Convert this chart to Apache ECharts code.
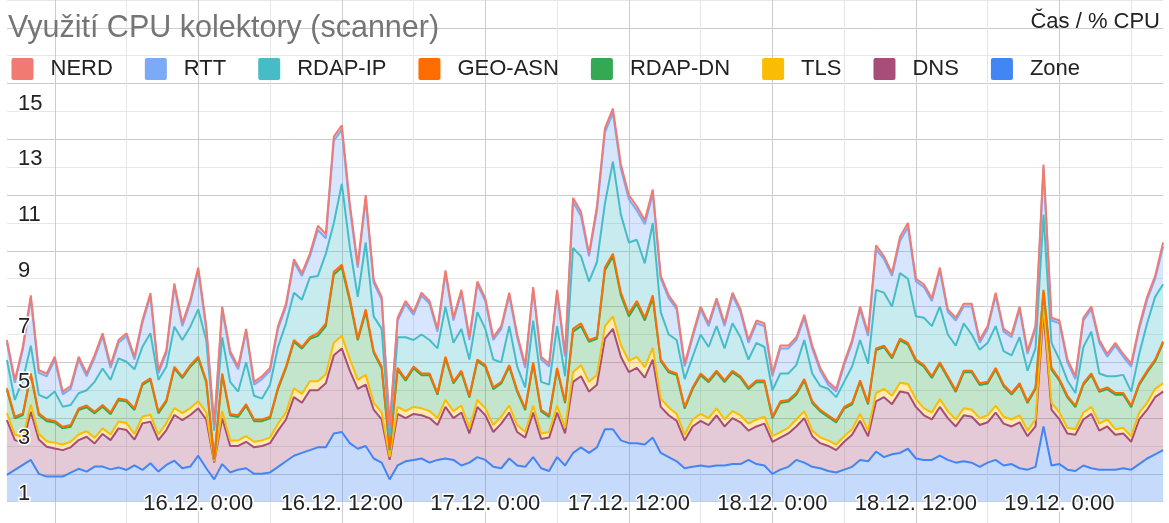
<!DOCTYPE html>
<html>
<head>
<meta charset="utf-8">
<title>Využití CPU kolektory (scanner)</title>
<script src="https://cdn.jsdelivr.net/npm/echarts@6/dist/echarts.min.js"></script>
<style>
html, body { margin: 0; padding: 0; background: #ffffff; }
#chart { width: 1169px; height: 523px; }
</style>
</head>
<body>
<div id="chart"></div>
<script>
// Samples every 40 minutes; hours are counted from 16.12. 0:00.
const firstHour = -16;
const stepHours = 2 / 3;
const firstDay = 16;
const monthText = '12';

// CPU usage (%) per collector, stacked from Zone (bottom) to NERD (top).
const zone = [
  1.96,2.14,2.32,2.5,2.0,1.9,1.9,1.9,2.04,2.18,
  2.08,2.26,2.26,2.16,2.23,2.14,2.3,2.14,2.38,2.08,
  2.32,2.47,2.2,2.26,2.65,2.2,1.8,2.35,2.05,2.15,
  2.2,2.0,2.0,2.05,2.25,2.45,2.65,2.75,2.85,2.95,
  2.95,3.45,3.5,3.1,2.9,3.0,2.55,2.4,1.8,2.3,
  2.45,2.5,2.55,2.4,2.5,2.55,2.5,2.3,2.4,2.6,
  2.5,2.25,2.2,2.55,2.3,2.25,2.6,2.2,2.1,2.6,
  2.3,2.75,2.95,2.75,2.95,3.6,3.6,3.2,3.1,3.1,
  3.05,3.3,2.75,2.6,2.45,2.2,2.25,2.3,2.25,2.3,
  2.3,2.35,2.35,2.5,2.35,2.3,2.0,2.15,2.25,2.5,
  2.4,2.25,2.2,2.1,2.05,2.15,2.25,2.5,2.45,2.8,
  2.6,2.7,2.75,2.9,2.55,2.5,2.5,2.65,2.5,2.4,
  2.45,2.4,2.25,2.4,2.5,2.3,2.35,2.2,2.15,2.25,
  3.7,2.3,2.35,2.15,2.1,2.3,2.2,2.15,2.15,2.15,
  2.2,2.15,2.35,2.55,2.7,2.85
];
const dns = [
  1.97,1.07,0.8,1.73,1.23,1.07,1.01,0.95,0.91,1.03,
  1.25,0.83,1.17,1.05,1.4,1.43,0.93,1.67,1.49,1.13,
  1.25,1.64,1.73,1.85,1.7,1.75,0.6,1.65,0.95,0.85,
  0.95,0.95,1.0,1.05,1.3,1.5,2.1,1.8,2.15,2.05,
  2.3,2.8,3.0,2.6,2.15,2.2,1.75,1.55,0.7,1.85,
  1.55,1.65,1.55,1.6,1.25,1.85,1.5,1.9,1.05,1.8,
  1.6,1.25,1.6,1.65,1.2,1.05,1.6,1.05,1.2,1.6,
  1.15,2.55,2.55,2.2,2.25,3.25,3.6,3.0,2.55,2.7,
  2.4,2.8,1.65,1.5,1.45,1.0,1.45,1.6,1.5,1.8,
  1.4,1.65,1.5,1.05,1.35,1.5,1.15,1.15,1.2,1.2,
  1.6,1.1,0.9,0.9,0.8,1.0,1.15,1.4,0.9,1.8,
  2.15,1.8,2.2,2.0,1.85,1.6,1.45,1.75,1.5,1.3,
  1.65,1.65,1.5,1.45,1.7,1.5,1.35,1.65,1.2,1.45,
  4.1,2.0,1.6,1.3,1.3,1.65,1.95,1.4,1.55,1.25,
  1.25,1.0,1.6,1.75,2.05,2.1
];
const tls = [
  0.25,0.2,0.2,0.25,0.2,0.2,0.2,0.2,0.2,0.2,
  0.2,0.2,0.2,0.2,0.25,0.25,0.2,0.25,0.25,0.2,
  0.25,0.25,0.25,0.25,0.25,0.25,0.05,0.25,0.2,0.2,
  0.2,0.2,0.2,0.2,0.25,0.25,0.32,0.32,0.32,0.32,
  0.32,0.45,0.45,0.42,0.32,0.35,0.25,0.25,0.1,0.25,
  0.25,0.25,0.25,0.25,0.25,0.25,0.25,0.25,0.2,0.25,
  0.25,0.25,0.25,0.25,0.25,0.2,0.25,0.2,0.2,0.25,
  0.2,0.35,0.4,0.35,0.35,0.45,0.45,0.42,0.4,0.4,
  0.38,0.42,0.3,0.28,0.25,0.2,0.25,0.25,0.25,0.25,
  0.25,0.25,0.25,0.25,0.25,0.25,0.2,0.2,0.2,0.25,
  0.25,0.2,0.2,0.2,0.2,0.2,0.2,0.25,0.2,0.3,
  0.3,0.3,0.32,0.32,0.28,0.25,0.25,0.28,0.25,0.25,
  0.25,0.25,0.25,0.25,0.25,0.25,0.25,0.25,0.2,0.25,
  0.3,0.25,0.25,0.2,0.2,0.25,0.25,0.25,0.25,0.2,
  0.2,0.2,0.25,0.25,0.3,0.3
];
const rdapDn = [
  0.83,0.58,0.79,1.06,0.68,0.72,0.73,0.58,0.54,0.88,
  0.86,0.88,0.78,0.73,0.76,0.77,0.86,1.13,1.25,0.76,
  0.77,1.42,1.25,1.48,1.54,1.09,0.07,1.29,0.89,0.84,
  1.09,0.74,0.69,0.69,1.24,1.59,1.67,1.62,1.52,1.63,
  1.73,2.45,2.45,2.08,1.42,2.25,1.79,1.59,0.25,1.34,
  1.09,1.39,1.19,1.29,0.84,1.49,0.99,1.19,1.09,1.39,
  1.49,1.29,1.19,1.39,1.19,0.79,1.49,0.79,0.54,1.29,
  0.89,1.45,1.4,1.44,1.29,2.0,2.15,1.78,1.6,1.9,
  1.67,1.78,1.34,1.26,1.39,0.94,1.09,1.39,1.29,1.29,
  1.34,1.39,1.34,1.24,1.34,1.24,0.64,1.04,0.94,0.89,
  1.09,0.99,0.94,0.84,0.79,0.99,0.89,1.14,0.94,1.54,
  1.49,1.34,1.52,1.42,1.36,1.49,1.24,1.26,1.19,0.99,
  1.29,1.34,1.19,1.14,1.29,1.09,0.89,1.09,0.99,1.09,
  0.42,1.19,1.14,1.09,0.79,0.99,1.14,1.14,1.09,1.24,
  1.19,1.04,0.99,1.09,0.99,1.44
];
const geoAsn = [
  0.06,0.06,0.06,0.06,0.06,0.06,0.06,0.06,0.06,0.06,
  0.06,0.06,0.06,0.06,0.06,0.06,0.06,0.06,0.06,0.06,
  0.06,0.06,0.06,0.06,0.06,0.06,0.03,0.06,0.06,0.06,
  0.06,0.06,0.06,0.06,0.06,0.06,0.06,0.06,0.06,0.1,
  0.1,0.1,0.1,0.1,0.06,0.1,0.06,0.06,0.05,0.06,
  0.06,0.06,0.06,0.06,0.06,0.06,0.06,0.06,0.06,0.06,
  0.06,0.06,0.06,0.06,0.06,0.06,0.06,0.06,0.06,0.06,
  0.06,0.1,0.1,0.06,0.06,0.1,0.1,0.1,0.1,0.1,
  0.1,0.1,0.06,0.06,0.06,0.06,0.06,0.06,0.06,0.06,
  0.06,0.06,0.06,0.06,0.06,0.06,0.06,0.06,0.06,0.06,
  0.06,0.06,0.06,0.06,0.06,0.06,0.06,0.06,0.06,0.06,
  0.06,0.06,0.06,0.06,0.06,0.06,0.06,0.06,0.06,0.06,
  0.06,0.06,0.06,0.06,0.06,0.06,0.06,0.06,0.06,0.06,
  0.08,0.06,0.06,0.06,0.06,0.06,0.06,0.06,0.06,0.06,
  0.06,0.06,0.06,0.06,0.06,0.06
];
const rdapIp = [
  1.01,0.6,1.2,1.0,0.66,0.76,1.05,0.72,0.72,0.54,
  0.55,1.07,1.31,1.17,1.44,1.37,1.4,1.31,1.61,1.14,
  1.19,1.44,1.31,1.38,1.7,1.45,1.0,1.3,1.15,0.85,
  1.5,0.85,0.75,1.15,1.45,1.55,1.7,1.7,2.15,2.05,
  2.5,1.75,2.9,1.85,1.5,2.4,1.25,1.35,0.45,1.1,
  1.5,0.95,1.4,1.2,1.6,1.8,1.4,1.5,1.3,1.7,
  1.3,1.0,0.7,1.4,0.85,0.75,1.5,1.0,1.1,1.5,
  0.9,2.9,2.4,2.1,2.7,2.3,3.3,2.8,2.55,2.2,
  1.95,2.6,1.7,1.3,1.2,1.0,1.1,1.4,1.2,1.6,
  1.15,1.7,1.4,1.0,1.35,1.2,0.95,1.0,0.95,1.0,
  1.4,1.0,0.85,0.95,0.85,0.9,1.3,1.45,1.4,2.1,
  1.9,1.8,2.35,2.3,1.55,1.7,1.8,2.0,1.5,1.6,
  1.7,1.3,1.2,1.4,1.5,1.2,1.35,1.65,1.1,1.4,
  2.7,0.9,0.7,0.55,0.45,1.3,1.5,0.6,0.4,0.6,
  0.65,0.5,1.05,1.7,2.25,2.05
];
const rtt = [
  0.62,0.62,1.09,1.7,0.79,0.79,1.15,0.44,0.58,1.21,
  0.5,0.86,1.16,0.43,0.56,0.92,0.35,0.86,1.34,0.23,
  0.5,1.45,0.5,0.86,1.4,0.4,0.14,1.0,1.0,0.8,
  1.1,0.4,0.7,0.5,0.65,0.6,1.1,0.85,0.75,1.65,
  0.55,2.95,1.95,1.4,1.05,1.55,1.2,1.05,0.29,0.6,
  1.2,0.9,1.4,1.3,0.6,1.2,0.8,1.3,0.7,1.0,
  1.0,0.7,1.2,1.1,1.05,0.7,1.1,0.8,0.65,1.2,
  0.7,1.65,1.45,0.9,1.85,2.55,1.75,1.65,1.55,1.05,
  1.4,1.05,1.2,1.3,1.1,0.45,0.7,0.9,0.75,0.9,
  0.8,1.0,0.9,0.6,0.7,0.75,0.5,0.9,0.9,0.9,
  0.8,0.9,0.55,0.15,0.2,0.6,0.85,1.1,1.0,1.45,
  1.2,1.1,1.15,1.85,1.25,1.1,0.9,1.3,0.8,0.9,
  0.6,1.0,0.25,0.5,1.1,0.7,0.65,1.0,0.6,0.7,
  1.65,0.8,1.3,0.65,0.5,0.95,0.8,1.1,0.7,1.1,
  0.65,0.9,0.9,0.85,0.65,1.35
];
const nerd = [
  0.1,0.1,0.1,0.1,0.1,0.1,0.1,0.1,0.1,0.1,
  0.1,0.1,0.1,0.1,0.1,0.1,0.1,0.1,0.1,0.1,
  0.1,0.1,0.1,0.1,0.1,0.1,0.06,0.1,0.1,0.1,
  0.1,0.1,0.1,0.1,0.1,0.1,0.1,0.1,0.1,0.15,
  0.15,0.15,0.15,0.15,0.1,0.15,0.1,0.1,0.06,0.1,
  0.1,0.1,0.1,0.1,0.1,0.1,0.1,0.1,0.1,0.1,
  0.1,0.1,0.1,0.1,0.1,0.1,0.1,0.1,0.1,0.1,
  0.1,0.15,0.15,0.1,0.15,0.15,0.15,0.15,0.15,0.15,
  0.15,0.15,0.1,0.1,0.1,0.1,0.1,0.1,0.1,0.1,
  0.1,0.1,0.1,0.1,0.1,0.1,0.1,0.1,0.1,0.1,
  0.1,0.1,0.1,0.1,0.1,0.1,0.1,0.1,0.1,0.15,
  0.1,0.1,0.15,0.15,0.1,0.1,0.1,0.1,0.1,0.1,
  0.1,0.1,0.1,0.1,0.1,0.1,0.1,0.1,0.1,0.1,
  0.15,0.1,0.1,0.1,0.1,0.1,0.1,0.1,0.1,0.1,
  0.1,0.1,0.1,0.1,0.1,0.15
];

const yTickLabels = [1, 3, 5, 7, 9, 11, 13, 15];
const legendOrder = ['NERD', 'RTT', 'RDAP-IP', 'GEO-ASN', 'RDAP-DN', 'TLS', 'DNS', 'Zone'];

// Stacking order, bottom to top, with each collector's colour.
const layers = [
  { name: 'Zone',    values: zone,   color: '#4285F4' },
  { name: 'DNS',     values: dns,    color: '#A64D79' },
  { name: 'TLS',     values: tls,    color: '#FBBC04' },
  { name: 'RDAP-DN', values: rdapDn, color: '#34A853' },
  { name: 'GEO-ASN', values: geoAsn, color: '#FF6D01' },
  { name: 'RDAP-IP', values: rdapIp, color: '#46BDC6' },
  { name: 'RTT',     values: rtt,    color: '#7BAAF7' },
  { name: 'NERD',    values: nerd,   color: '#F07B72' }
];

const FONT = "'Liberation Sans', Arial, Helvetica, sans-serif";
// sample times (hours) used as the categories of the plot axis
const hours = zone.map((_, i) => firstHour + i * stepHours);
const GRID_MINOR = '#e6e6e6';
const GRID_MAJOR = '#cccccc';
const LEGEND_ICON = 'path://M2,0H20A2,2 0 0 1 22,2V20A2,2 0 0 1 20,22H2A2,2 0 0 1 0,20V2A2,2 0 0 1 2,0Z';

function timeLabel(h) {
  if (h < 0 || h % 12 !== 0) return '';
  const day = firstDay + Math.floor(h / 24);
  return day + '.' + monthText + '. ' + (h % 24) + ':00';
}

const hidden = { show: false };

const option = {
  animation: false,
  backgroundColor: '#ffffff',
  textStyle: { fontFamily: FONT },
  title: [
    {
      text: 'Využití CPU kolektory (scanner)',
      left: 3, top: 8,
      textStyle: { fontFamily: FONT, fontSize: 30.5, fontWeight: 'normal', color: '#757575' }
    },
    {
      text: 'Čas / % CPU',
      right: 4, top: 6,
      textStyle: { fontFamily: FONT, fontSize: 22, fontWeight: 'normal', color: '#222222' }
    }
  ],
  legend: {
    data: legendOrder,
    left: 6.5, top: 53,
    icon: LEGEND_ICON,
    itemWidth: 22, itemHeight: 22, itemGap: 32,
    selectedMode: false,
    itemStyle: { borderWidth: 0 },
    textStyle: { fontFamily: FONT, fontSize: 22, color: '#222222', padding: [0, 0, 0, 12] }
  },
  grid: [
    // plot area: 15.12. 8:00 .. 19.12. 8:40, 1 .. 19 %
    { left: 6.9, right: 5.9, top: 0, bottom: 21.3, outerBoundsMode: 'none', containLabel: false },
    // 6-hour guide lines across the full height (-18 h .. 84 h)
    { left: -17, right: -33.9, top: 0, bottom: 0, outerBoundsMode: 'none', containLabel: false }
  ],
  xAxis: [
    {
      gridIndex: 0, type: 'category', data: hours, boundaryGap: false, show: false
    },
    {
      gridIndex: 1, type: 'value', position: 'bottom', min: -18, max: 84, interval: 6, z: 0,
      axisLine: { show: false, onZero: false }, axisTick: hidden, axisLabel: hidden,
      splitLine: { show: true, lineStyle: { color: [GRID_MINOR, GRID_MAJOR], width: 1 } }
    },
    {
      gridIndex: 1, type: 'value', position: 'bottom', min: -18, max: 84, interval: 6, z: 10,
      axisLine: { show: false, onZero: false }, axisTick: hidden, splitLine: hidden,
      axisLabel: {
        inside: true, margin: 8.5, interval: 0,
        showMinLabel: false, showMaxLabel: false,
        formatter: timeLabel,
        fontFamily: FONT, fontSize: 22, lineHeight: 22, color: '#222222',
        textBorderColor: '#ffffff', textBorderWidth: 3
      }
    }
  ],
  yAxis: [
    {
      gridIndex: 0, type: 'value', position: 'left', min: 1, max: 19, interval: 1, z: 0,
      axisLine: { show: false, onZero: false }, axisTick: hidden, axisLabel: hidden,
      splitLine: { show: true, lineStyle: { color: [GRID_MINOR, GRID_MAJOR], width: 1 } }
    },
    {
      gridIndex: 0, type: 'value', position: 'left', min: 1, max: 19, interval: 1, z: 10,
      axisLine: { show: false, onZero: false }, axisTick: hidden, splitLine: hidden,
      axisLabel: {
        inside: true, margin: 11, align: 'left', verticalAlign: 'bottom', lineHeight: 16,
        formatter: v => (yTickLabels.indexOf(v) >= 0 ? String(v) : ''),
        fontFamily: FONT, fontSize: 22, color: '#222222',
        textBorderColor: '#ffffff', textBorderWidth: 3
      }
    },
    { gridIndex: 1, type: 'value', show: false }
  ],
  series: layers.map(layer => ({
    name: layer.name,
    type: 'line',
    xAxisIndex: 0,
    yAxisIndex: 0,
    stack: 'cpu',
    symbol: 'none',
    showSymbol: false,
    silent: true,
    color: layer.color,
    lineStyle: { width: 2, color: layer.color },
    itemStyle: { color: layer.color },
    areaStyle: { color: layer.color, opacity: 0.3 },
    emphasis: { disabled: true },
    data: layer.values
  }))
};

const chart = echarts.init(document.getElementById('chart'), null, { renderer: 'canvas' });
chart.setOption(option);
</script>
</body>
</html>
